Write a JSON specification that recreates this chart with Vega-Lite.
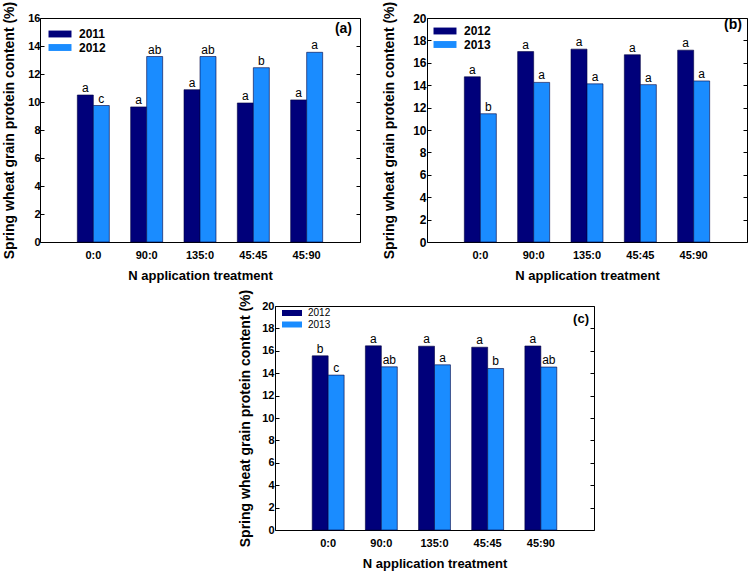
{
  "$schema": "https://vega.github.io/schema/vega-lite/v6.json",
  "padding": {"left": 2, "top": 0, "right": 0, "bottom": 0},
  "background": "white",
  "datasets": {
    "a": [
      {"trt": "0:0", "year": "2011", "value": 10.5, "sig": "a"},
      {"trt": "0:0", "year": "2012", "value": 9.75, "sig": "c"},
      {"trt": "90:0", "year": "2011", "value": 9.65, "sig": "a"},
      {"trt": "90:0", "year": "2012", "value": 13.25, "sig": "ab"},
      {"trt": "135:0", "year": "2011", "value": 10.88, "sig": "a"},
      {"trt": "135:0", "year": "2012", "value": 13.25, "sig": "ab"},
      {"trt": "45:45", "year": "2011", "value": 9.93, "sig": "a"},
      {"trt": "45:45", "year": "2012", "value": 12.45, "sig": "b"},
      {"trt": "45:90", "year": "2011", "value": 10.15, "sig": "a"},
      {"trt": "45:90", "year": "2012", "value": 13.55, "sig": "a"}
    ],
    "b": [
      {"trt": "0:0", "year": "2012", "value": 14.75, "sig": "a"},
      {"trt": "0:0", "year": "2013", "value": 11.45, "sig": "b"},
      {"trt": "90:0", "year": "2012", "value": 17.0, "sig": "a"},
      {"trt": "90:0", "year": "2013", "value": 14.25, "sig": "a"},
      {"trt": "135:0", "year": "2012", "value": 17.22, "sig": "a"},
      {"trt": "135:0", "year": "2013", "value": 14.12, "sig": "a"},
      {"trt": "45:45", "year": "2012", "value": 16.72, "sig": "a"},
      {"trt": "45:45", "year": "2013", "value": 14.05, "sig": "a"},
      {"trt": "45:90", "year": "2012", "value": 17.13, "sig": "a"},
      {"trt": "45:90", "year": "2013", "value": 14.38, "sig": "a"}
    ],
    "c": [
      {"trt": "0:0", "year": "2012", "value": 15.55, "sig": "b"},
      {"trt": "0:0", "year": "2013", "value": 13.83, "sig": "c"},
      {"trt": "90:0", "year": "2012", "value": 16.44, "sig": "a"},
      {"trt": "90:0", "year": "2013", "value": 14.57, "sig": "ab"},
      {"trt": "135:0", "year": "2012", "value": 16.41, "sig": "a"},
      {"trt": "135:0", "year": "2013", "value": 14.75, "sig": "a"},
      {"trt": "45:45", "year": "2012", "value": 16.32, "sig": "a"},
      {"trt": "45:45", "year": "2013", "value": 14.42, "sig": "b"},
      {"trt": "45:90", "year": "2012", "value": 16.43, "sig": "a"},
      {"trt": "45:90", "year": "2013", "value": 14.55, "sig": "ab"}
    ]
  },
  "vconcat": [
    {
      "hconcat": [
        {
          "width": 320, "height": 224,
          "data": {"name": "a"},
          "title": {"text": "(a)", "anchor": "end", "frame": "group", "offset": -35, "dx": -8, "fontSize": 14, "fontWeight": "bold", "font": "Liberation Sans"},
          "encoding": {
            "x": {"field": "trt", "type": "nominal", "sort": ["0:0", "90:0", "135:0", "45:45", "45:90"], "scale": {"type": "band", "paddingInner": 0.4, "paddingOuter": 0.7}, "axis": {"title": "N application treatment", "labelAngle": 0, "ticks": false, "labelPadding": 7, "titlePadding": 9, "labelFontSize": 11, "titleFontSize": 13}},
            "xOffset": {"field": "year", "type": "nominal", "scale": {"type": "band", "paddingInner": 0, "paddingOuter": 0}}
          },
          "layer": [
            {
              "mark": {"type": "bar", "stroke": "#000040", "strokeWidth": 0.6},
              "encoding": {
                "y": {"field": "value", "type": "quantitative", "scale": {"domain": [0, 16]}, "axis": {"orient": "left", "title": "Spring wheat grain protein content (%)", "values": [0, 2, 4, 6, 8, 10, 12, 14, 16], "tickSize": -4, "labelPadding": 4, "titlePadding": 11, "labelFontSize": 11, "titleFontSize": 14}},
                "color": {"field": "year", "type": "nominal", "scale": {"range": ["#00007A", "#1A8CFF"]}, "legend": {"orient": "none", "legendX": 14, "legendY": 10, "title": null, "symbolType": "M-2,-0.6H2V0.6H-2Z", "symbolSize": 132, "symbolStrokeWidth": 0, "labelFontSize": 12, "labelFontWeight": "bold", "labelOffset": 13, "rowPadding": 1.5, "labelFont": "Liberation Sans", "padding": 0}}
              }
            },
            {
              "mark": {"type": "text", "baseline": "alphabetic", "dy": -3, "fontSize": 12, "font": "Liberation Sans"},
              "encoding": {
                "y": {"field": "value", "type": "quantitative", "scale": {"domain": [0, 16]}, "axis": {"orient": "right", "title": null, "labels": false, "values": [0, 2, 4, 6, 8, 10, 12, 14, 16], "tickSize": -4, "maxExtent": 0, "minExtent": 0}},
                "text": {"field": "sig"}
              }
            }
          ],
          "resolve": {"axis": {"y": "independent"}}
        },
        {
          "width": 320, "height": 224,
          "data": {"name": "b"},
          "title": {"text": "(b)", "anchor": "end", "frame": "group", "offset": -31, "dx": -5, "fontSize": 14, "fontWeight": "bold", "font": "Liberation Sans"},
          "encoding": {
            "x": {"field": "trt", "type": "nominal", "sort": ["0:0", "90:0", "135:0", "45:45", "45:90"], "scale": {"type": "band", "paddingInner": 0.4, "paddingOuter": 0.7}, "axis": {"title": "N application treatment", "labelAngle": 0, "ticks": false, "labelPadding": 7, "titlePadding": 9, "labelFontSize": 11, "titleFontSize": 13}},
            "xOffset": {"field": "year", "type": "nominal", "scale": {"type": "band", "paddingInner": 0, "paddingOuter": 0}}
          },
          "layer": [
            {
              "mark": {"type": "bar", "stroke": "#000040", "strokeWidth": 0.6},
              "encoding": {
                "y": {"field": "value", "type": "quantitative", "scale": {"domain": [0, 20]}, "axis": {"orient": "left", "title": "Spring wheat grain protein content (%)", "values": [0, 2, 4, 6, 8, 10, 12, 14, 16, 18, 20], "tickSize": -4, "labelPadding": 5, "titlePadding": 16, "labelFontSize": 12, "titleFontSize": 14}},
                "color": {"field": "year", "type": "nominal", "scale": {"range": ["#00007A", "#1A8CFF"]}, "legend": {"orient": "none", "legendX": 12, "legendY": 7, "title": null, "symbolType": "M-2,-0.6H2V0.6H-2Z", "symbolSize": 132, "symbolStrokeWidth": 0, "labelFontSize": 12, "labelFontWeight": "bold", "labelOffset": 13, "rowPadding": 1.5, "labelFont": "Liberation Sans", "padding": 0}}
              }
            },
            {
              "mark": {"type": "text", "baseline": "alphabetic", "dy": -3, "fontSize": 12, "font": "Liberation Sans"},
              "encoding": {
                "y": {"field": "value", "type": "quantitative", "scale": {"domain": [0, 20]}, "axis": {"orient": "right", "title": null, "labels": false, "values": [0, 2, 4, 6, 8, 10, 12, 14, 16, 18, 20], "tickSize": -4, "maxExtent": 0, "minExtent": 0}},
                "text": {"field": "sig"}
              }
            }
          ],
          "resolve": {"axis": {"y": "independent"}}
        }
      ],
      "spacing": 21,
      "resolve": {"scale": {"color": "independent", "y": "independent", "x": "independent", "xOffset": "independent"}, "legend": {"color": "independent"}}
    },
    {
      "hconcat": [
        {
          "width": 198, "height": 224,
          "data": {"values": []},
          "mark": {"type": "text"},
          "view": {"stroke": null}
        },
        {
          "width": 319, "height": 224,
          "data": {"name": "c"},
          "title": {"text": "(c)", "anchor": "end", "frame": "group", "offset": -37, "dx": -5, "fontSize": 13, "fontWeight": "bold", "font": "Liberation Sans"},
          "encoding": {
            "x": {"field": "trt", "type": "nominal", "sort": ["0:0", "90:0", "135:0", "45:45", "45:90"], "scale": {"type": "band", "paddingInner": 0.4, "paddingOuter": 0.7}, "axis": {"title": "N application treatment", "labelAngle": 0, "ticks": false, "labelPadding": 7, "titlePadding": 9, "labelFontSize": 11, "titleFontSize": 13}},
            "xOffset": {"field": "year", "type": "nominal", "scale": {"type": "band", "paddingInner": 0, "paddingOuter": 0}}
          },
          "layer": [
            {
              "mark": {"type": "bar", "stroke": "#000040", "strokeWidth": 0.6},
              "encoding": {
                "y": {"field": "value", "type": "quantitative", "scale": {"domain": [0, 20]}, "axis": {"orient": "left", "title": "Spring wheat grain protein content (%)", "values": [0, 2, 4, 6, 8, 10, 12, 14, 16, 18, 20], "tickSize": -4, "labelPadding": 5, "titlePadding": 9, "labelFontSize": 11, "titleFontSize": 14}},
                "color": {"field": "year", "type": "nominal", "scale": {"range": ["#00007A", "#1A8CFF"]}, "legend": {"orient": "none", "legendX": 12, "legendY": 2, "title": null, "symbolType": "M-2,-0.6H2V0.6H-2Z", "symbolSize": 100, "symbolStrokeWidth": 0, "labelFontSize": 10, "labelOffset": 11, "rowPadding": 1.5, "labelFont": "Liberation Sans", "padding": 0}}
              }
            },
            {
              "mark": {"type": "text", "baseline": "alphabetic", "dy": -3, "fontSize": 12, "font": "Liberation Sans"},
              "encoding": {
                "y": {"field": "value", "type": "quantitative", "scale": {"domain": [0, 20]}, "axis": {"orient": "right", "title": null, "labels": false, "values": [0, 2, 4, 6, 8, 10, 12, 14, 16, 18, 20], "tickSize": -4, "maxExtent": 0, "minExtent": 0}},
                "text": {"field": "sig"}
              }
            }
          ],
          "resolve": {"axis": {"y": "independent"}}
        }
      ],
      "spacing": 0,
      "resolve": {"scale": {"color": "independent", "y": "independent", "x": "independent", "xOffset": "independent"}, "legend": {"color": "independent"}}
    }
  ],
  "spacing": 5,
  "resolve": {"scale": {"color": "independent", "y": "independent", "x": "independent", "xOffset": "independent"}, "legend": {"color": "independent"}},
  "config": {
    "view": {"stroke": "black", "strokeWidth": 1},
    "font": "Liberation Sans",
    "axis": {"grid": false, "domain": false, "tickColor": "black", "labelColor": "black", "titleColor": "black", "labelFont": "Liberation Sans", "titleFont": "Liberation Sans", "labelFontWeight": "bold", "titleFontWeight": "bold"},
    "legend": {"labelColor": "black"},
    "title": {"color": "black"}
  }
}
